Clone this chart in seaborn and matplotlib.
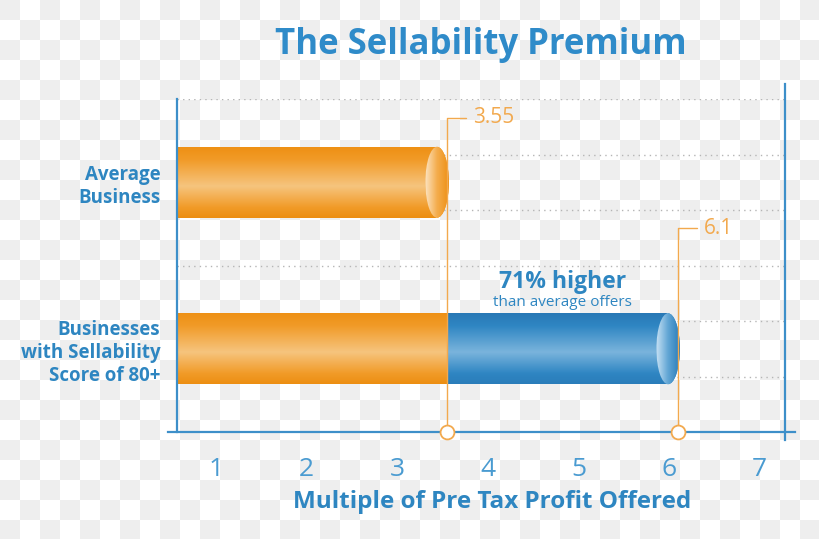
import matplotlib.pyplot as plt
import numpy as np
import seaborn as sns
from matplotlib.colors import LinearSegmentedColormap
from matplotlib.patches import Ellipse

# datos
categories = ["Average\nBusiness", "Businesses\nwith Sellability\nScore of 80+"]
base_multiple = [3.55, 3.55]    # parte naranja (negocio promedio)
offer_multiple = [3.55, 6.1]    # múltiplo total ofrecido
value_labels = ["3.55", "6.1"]
x_ticks = [1, 2, 3, 4, 5, 6, 7]
premium_text = "71% higher"
premium_sub = "than average offers"

sns.set_style("white")
plt.rcParams["font.family"] = ["Open Sans", "DejaVu Sans"]

ORANGE = "#f0951c"
BLUE = "#2f86c3"
AXIS_BLUE = "#3d8fc9"
TEXT_BLUE = "#2e86c1"
TICK_BLUE = "#4a9bd1"
CALLOUT = "#f2a94e"

orange_cmap = LinearSegmentedColormap.from_list(
    "naranja", [(0, "#ee9014"), (0.18, "#f19b28"), (0.55, "#f6c47e"), (0.85, "#f19b28"), (1, "#ec8e12")])
blue_cmap = LinearSegmentedColormap.from_list(
    "azul", [(0, "#2878b5"), (0.18, "#2f86c3"), (0.55, "#7ab4dc"), (0.85, "#2f86c3"), (1, "#2a7cb9")])
orange_cap = LinearSegmentedColormap.from_list("tapa_n", ["#fce4c2", "#f4ad4e", "#ee9014"])
blue_cap = LinearSegmentedColormap.from_list("tapa_a", ["#c8e2f4", "#62a6d5", "#2a7cb9"])

fig = plt.figure(figsize=(8.2, 5.39), dpi=100)
fig.patch.set_facecolor("white")

# fondo de cuadros (transparencia "quemada" en la imagen)
bg = fig.add_axes([0, 0, 1, 1], zorder=-10)
checker = (np.add.outer(np.arange(27), np.arange(41)) % 2 == 0).astype(float)
bg.imshow(checker, cmap=LinearSegmentedColormap.from_list("c", ["white", "#eeeeee"]),
          extent=[0, 820, 540, 0], interpolation="nearest", aspect="auto")
bg.set_xlim(0, 820)
bg.set_ylim(539, 0)
bg.axis("off")

ax = fig.add_axes([177 / 820, 1 - 432 / 539, (785 - 177) / 820, (432 - 99) / 539])
ax.set_facecolor("none")

bar_h = 0.426
sns.barplot(x=offer_multiple, y=categories, color=BLUE, width=bar_h, saturation=1, ax=ax, zorder=2)
n_blue = len(ax.patches)
sns.barplot(x=base_multiple, y=categories, color=ORANGE, width=bar_h, saturation=1, ax=ax, zorder=3)

x_left, x_right = 0.5695, 7.28
ax.set_xlim(x_left, x_right)
r = 0.13  # medio ancho de la tapa elíptica (unidades de datos)


def paint(patch, cmap, extent, horizontal=False):
    grad = np.linspace(0, 1, 256)
    grad = grad.reshape(1, -1) if horizontal else grad.reshape(-1, 1)
    im = ax.imshow(grad, cmap=cmap, extent=extent, aspect="auto",
                   interpolation="bilinear", zorder=patch.get_zorder() + 0.1)
    im.set_clip_path(patch)


for i, p in enumerate(ax.patches[:]):
    is_blue = i < n_blue
    row = int(round(p.get_y() + p.get_height() / 2))
    total = offer_multiple[row]
    end = p.get_x() + p.get_width()
    has_cap = abs(end - total) < 1e-9
    if has_cap:
        p.set_width(p.get_width() - r)
    if is_blue and offer_multiple[row] == base_multiple[row]:
        p.set_visible(False)
        continue
    p.set_edgecolor("none")
    y0, h = p.get_y(), p.get_height()
    x0 = max(p.get_x(), x_left)
    paint(p, blue_cmap if is_blue else orange_cmap, [x0, p.get_x() + p.get_width(), y0 + h, y0])
    if has_cap:
        cx, cy = total - r + 0.02, y0 + h / 2
        cap = Ellipse((cx, cy), 2 * r, h, facecolor=BLUE if is_blue else ORANGE,
                      edgecolor="none", zorder=p.get_zorder() + 0.5)
        ax.add_patch(cap)
        paint(cap, blue_cap if is_blue else orange_cap, [cx - r, cx + r, cy + h / 2, cy - h / 2],
              horizontal=True)

# líneas punteadas
for gy in [-0.5, -1 / 6, 1 / 6, 0.5, 5 / 6, 7 / 6]:
    ax.axhline(gy, color="#b5b5b5", lw=1, ls=(0, (1, 3)), zorder=0)

ax.set_xlim(x_left, x_right)
ax.set_ylim(1.5, -0.5)

# ejes
for side in ["left", "bottom", "right"]:
    ax.spines[side].set_visible(True)
    ax.spines[side].set_color(AXIS_BLUE)
    ax.spines[side].set_linewidth(1.6)
    ax.spines[side].set_zorder(5)
ax.spines["top"].set_visible(False)
ax.spines["bottom"].set_bounds(0.47, 7.39)
ax.spines["right"].set_bounds(1.55, -0.59)

ax.set_xticks(x_ticks)
ax.set_xticklabels([str(t) for t in x_ticks])
ax.tick_params(axis="x", direction="out", length=4, width=1.5, color=AXIS_BLUE,
               labelsize=19, labelcolor=TICK_BLUE, pad=14)
ax.tick_params(axis="y", length=0, pad=12, labelsize=13.5, labelcolor=TEXT_BLUE)
for lab in ax.get_yticklabels():
    lab.set_fontweight("bold")
    lab.set_linespacing(1.2)
    lab.set_horizontalalignment("right")
    lab.set_multialignment("right")

ax.set_ylabel("")
ax.set_xlabel("Multiple of Pre Tax Profit Offered", fontsize=17.5, fontweight="bold",
              color=TEXT_BLUE, labelpad=6)
ax.xaxis.label.set_x((492 - 177) / 608)

# llamadas con el valor
callout_top = [-0.386, 0.275]
for val, lab, top in zip(offer_multiple, value_labels, callout_top):
    ax.plot([val, val, val + 0.21], [1.5, top, top], color=CALLOUT, lw=1, zorder=6, clip_on=False)
    ax.plot([val], [1.5], marker="o", ms=10, mfc="white", mec=CALLOUT, mew=1.3,
            zorder=7, clip_on=False)
    ax.text(val + 0.29, top, lab, color=CALLOUT, fontsize=15, va="center", ha="left", zorder=7)

mid = (base_multiple[1] + offer_multiple[1]) / 2
ax.text(mid, 0.60, premium_text, ha="center", va="center", fontsize=16.5,
        fontweight="bold", color=TEXT_BLUE, zorder=7)
ax.text(mid, 0.725, premium_sub, ha="center", va="center", fontsize=11,
        color=TEXT_BLUE, zorder=7)

fig.text(481 / 820, 1 - 45 / 539, "The Sellability Premium", ha="center", va="center",
         fontsize=25, fontweight="bold", color="#2f8bc9")

fig.savefig("out.png", dpi=100)
